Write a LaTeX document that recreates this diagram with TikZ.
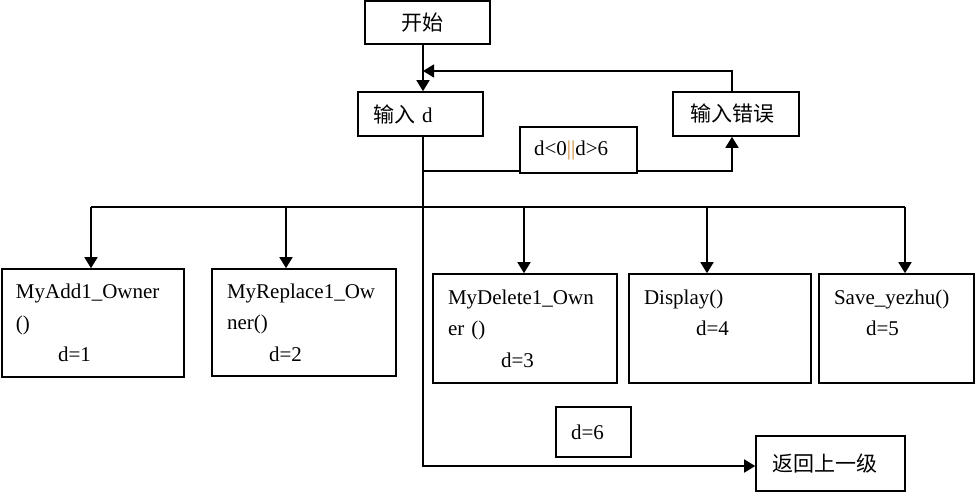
\documentclass[tikz,border=0pt]{standalone}
\usepackage{fontspec}
\setmainfont{Liberation Serif}
\newfontfamily\cjk{Noto Sans CJK SC}
\usepackage{xcolor}
\usetikzlibrary{arrows.meta}
\definecolor{bar-orange}{RGB}{205,135,45}
\tikzset{
    flow-box/.style = {draw, line width=0.8pt, rectangle, inner ysep=0pt, align=left},
    flow-line/.style = {line width=0.8pt},
    flow-arrow/.style = {flow-line, -{Triangle[length=5.5pt,width=6.5pt]}},
}

\begin{document}
\begin{tikzpicture}[x=0.5pt, y=-0.5pt, font=\fontsize{10.5}{15.75}\selectfont]
\useasboundingbox (0,0) rectangle (975,492);
% input part
\node [flow-box, inner xsep=18pt, text width=26.5pt, minimum height=21.5pt] (start) at (427.5,22.5) {\cjk 开始};
\node [flow-box, inner xsep=7.5pt, text width=47.5pt, minimum height=22pt] (input) at (420.5,114) {{\cjk 输入} d};
\node [flow-box, inner xsep=8.5pt, text width=46pt, minimum height=22pt] (err) at (736,114) {\cjk 输入错误};
\node [flow-box, inner xsep=7pt, text width=44.5pt, minimum height=23pt] (cond) at (578.5,150) {d<0\textcolor{bar-orange}{||}d>6};
% menu boxes
\node [flow-box, inner xsep=7pt, text width=77pt, minimum height=54pt] (b1) at (93,323) {MyAdd1\_Owner\\()\\\hspace*{21pt}d=1};
\node [flow-box, inner xsep=7.5pt, text width=77pt, minimum height=53.5pt] (b2) at (304,322.5) {MyReplace1\_Ow\\ner()\\\hspace*{21pt}d=2};
\node [flow-box, inner xsep=7.5pt, text width=77pt, minimum height=54.5pt] (b3) at (525,328.5) {MyDelete1\_Own\\er ()\\\hspace*{26.5pt}d=3};
\node [flow-box, inner xsep=7.5pt, text width=76pt, minimum height=54.5pt] (b4) at (720,328.5) {Display()\\\hspace*{26pt}d=4\\\mbox{}};
\node [flow-box, inner xsep=7.5pt, text width=62.5pt, minimum height=54.5pt] (b5) at (896.5,328.5) {Save\_yezhu()\\\hspace*{16pt}d=5\\\mbox{}};
\node [flow-box, inner xsep=7.5pt, text width=22.5pt, minimum height=25pt] (d6) at (593.5,432) {d=6};
\node [flow-box, inner xsep=8pt, text width=58.5pt, minimum height=27.5pt] (back) at (830.5,463.5) {\cjk 返回上一级};
% connectors
\coordinate (j) at (423,71);
\coordinate (e) at (732,71);
\coordinate (c) at (423,171);
\coordinate (k) at (423,466);
\coordinate (bus-l) at (91,207);
\coordinate (bus-r) at (905,207);
\draw [flow-arrow] (start.south -| j) -- (input.north -| j);
\draw [flow-arrow] (e |- err.north) -- (e) -- (j);
\draw [flow-line] (input.south -| j) -- (c) -- (c -| cond.west);
\draw [flow-arrow] (c -| cond.east) -- (c -| e) -- (e |- err.south);
\draw [flow-arrow] (c) -- (k) -- (k -| back.west);
\draw [flow-line] (bus-l) -- (bus-r);
\foreach \x/\b in {91/b1, 286/b2, 524/b3, 707/b4, 905/b5}
    \draw [flow-arrow] (\x,207) -- (\x,207 |- \b.north);
\end{tikzpicture}
\end{document}
